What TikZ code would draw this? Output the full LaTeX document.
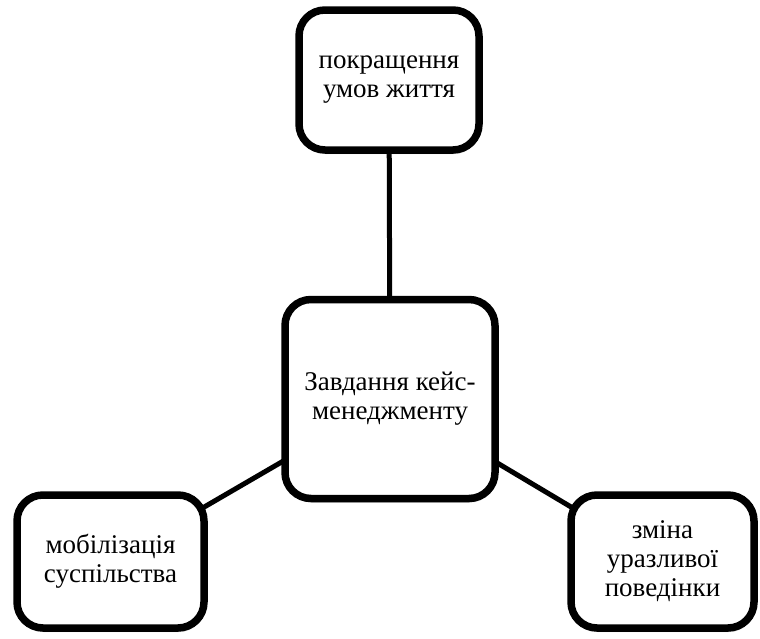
\documentclass[tikz,border=0pt]{standalone}
\usepackage{fontspec}
\setmainfont{Liberation Serif}
\usetikzlibrary{shadows}

\begin{document}
\begin{tikzpicture}[x=1pt, y=-1pt,
    task/.style = {draw, line width=7.5pt, rounded corners=26pt, fill=white,
        align=center, inner sep=0pt, font=\fontsize{27}{29}\selectfont,
        drop shadow={opacity=0.35, shadow xshift=1pt, shadow yshift=-4pt}},
    link/.style = {line width=5pt}]
    % Page frame
    \useasboundingbox (0,0) rectangle (760,638);

    % Links (drawn first, boxes cover the ends)
    \coordinate (T) at (389,80);
    \coordinate (C) at (390,399);
    \coordinate (L) at (110.5,561.5);
    \coordinate (R) at (662.5,561.5);
    \draw[link] (T) -- (C);
    \draw[link] (C) -- (L);
    \draw[link] (C) -- (R);

    % Boxes
    \node[task, minimum width=180pt, minimum height=140pt] (top) at (T) {покращення\\умов життя};
    \node[task, minimum width=210pt, minimum height=199pt] (centre) at (C) {Завдання кейс-\\менеджменту};
    \node[task, minimum width=187pt, minimum height=133pt] (left) at (L) {мобілізація\\суспільства};
    \node[task, minimum width=183pt, minimum height=133pt] (right) at (R) {зміна\\уразливої\\поведінки};
\end{tikzpicture}
\end{document}
